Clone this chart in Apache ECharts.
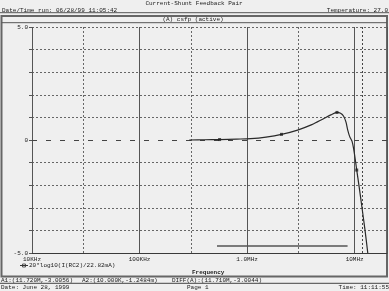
<!DOCTYPE html>
<html><head><meta charset="utf-8">
<script src="https://cdn.jsdelivr.net/npm/echarts@6/dist/echarts.min.js"></script>
<style>html,body{margin:0;padding:0;background:#efefef}#c{width:389px;height:291px}</style>
</head><body><div id="c"></div>
<script>
// ---- data ----
const freqHz = [2.9e5, 4.0e5, 5.55e5, 8.0e5, 1.08e6, 1.5e6, 2.09e6, 2.95e6, 4.0e6, 5.04e6, 6.0e6, 6.85e6, 7.4e6, 7.9e6, 8.3e6, 8.63e6, 9.0e6, 9.45e6, 9.8e6, 10.15e6, 10.46e6, 11.0e6, 11.72e6, 12.5e6, 13.25e6];
const gainDb = [0.00, 0.01, 0.02, 0.04, 0.06, 0.13, 0.25, 0.44, 0.68, 0.92, 1.11, 1.22, 1.18, 1.05, 0.80, 0.44, 0.15, -0.05, -0.40, -0.88, -1.33, -2.05, -3.01, -4.00, -5.00];
const markerFreq = [5.55e5, 2.09e6, 6.85e6, 10.46e6];
const markerDb = [0.02, 0.25, 1.22, -1.33];
const segFreq = [5.25e5, 8.6e6];
const segDb = [-4.69, -4.69];
const xTickValues = [1e4, 1e5, 1e6, 1e7];
const xTickLabels = ['10KHz', '100KHz', '1.0MHz', '10MHz'];
const xMinorGrid = [3e4, 3e5, 3e6];
const yLabelValues = [5, 0, -5];
const yLabelTexts = ['5.0', '0', '-5.0'];
const cursorA1 = [11.72e6, -3.0056];
const cursorA2 = [1e4, -1.2484e-3];
const xRange = [1e4, 2e7];
const yRange = [-5, 5];

const FONT = '6px "Liberation Mono", monospace';
const ink = '#1a1a1a';
const gridCol = '#666';

const chart = echarts.init(document.getElementById('c'), null, {renderer: 'canvas'});

function xFmt(v) {
  const e = Math.log10(v);
  for (let i = 0; i < xTickValues.length; i++) {
    if (Math.abs(e - Math.log10(xTickValues[i])) < 1e-6) return xTickLabels[i];
  }
  return '';
}
function yFmt(v) {
  for (let i = 0; i < yLabelValues.length; i++) if (Math.abs(v - yLabelValues[i]) < 1e-9) return yLabelTexts[i];
  return '';
}
// y split-line colours: hide the zero line (cursor line drawn there instead)
const ySplitColors = [];
for (let v = yRange[0]; v <= yRange[1]; v++) ySplitColors.push(v === 0 ? 'rgba(0,0,0,0)' : gridCol);

function txt(x, y, text, align, weight) {
  return {
    type: 'text', x: x, y: y, silent: true,
    style: {text: text, font: (weight || '') + ' ' + FONT, fill: ink, textAlign: align || 'left', textVerticalAlign: 'middle', verticalAlign: 'middle'}
  };
}
function hline(x1, x2, y, w, col) {
  return {type: 'line', silent: true, shape: {x1: x1, y1: y, x2: x2, y2: y}, style: {stroke: col || '#444', lineWidth: w || 1}};
}

const option = {
  backgroundColor: '#efefef',
  animation: false,
  grid: {left: 32, right: 2, top: 27, bottom: 38},
  xAxis: {
    type: 'log', logBase: 10, min: xRange[0], max: xRange[1],
    axisLine: {show: true, onZero: false, lineStyle: {color: '#3a3a3a', width: 1}},
    axisTick: {show: false},
    axisLabel: {formatter: xFmt, fontFamily: 'Liberation Mono', fontSize: 6, color: ink, margin: 3, showMaxLabel: false},
    splitLine: {show: true, lineStyle: {color: '#555', width: 1, type: 'solid'}},
    minorTick: {show: false}
  },
  yAxis: {
    type: 'value', min: yRange[0], max: yRange[1], interval: 1,
    axisLine: {show: true, lineStyle: {color: '#555', width: 1, type: [4, 7]}},
    axisTick: {show: true, length: 3, lineStyle: {color: '#555'}},
    axisLabel: {formatter: yFmt, fontFamily: 'Liberation Mono', fontSize: 6, color: ink, margin: 4},
    splitLine: {show: true, lineStyle: {color: ySplitColors, width: 1, type: [2, 2]}}
  },
  series: [
    {
      type: 'line', name: 'curve', data: freqHz.map((f, i) => [f, gainDb[i]]),
      showSymbol: false, smooth: 0.3, lineStyle: {color: '#2a2a2a', width: 1.2}, z: 5,
      markLine: {
        silent: true, symbol: 'none', label: {show: false},
        data: [
          ...xMinorGrid.map(v => ({xAxis: v, lineStyle: {color: gridCol, width: 1, type: [2, 2]}})),
          {xAxis: cursorA1[0], lineStyle: {color: '#444', width: 1, type: [2, 2]}},
          {yAxis: cursorA2[1], lineStyle: {color: '#444', width: 1, type: [5, 9]}}
        ]
      }
    },
    {
      type: 'scatter', name: 'markers', data: markerFreq.map((f, i) => [f, markerDb[i]]),
      symbol: 'rect', symbolSize: 3, itemStyle: {color: '#222'}, z: 6
    },
    {
      type: 'line', name: 'seg', data: segFreq.map((f, i) => [f, segDb[i]]),
      showSymbol: false, lineStyle: {color: '#555', width: 1.5}, z: 4
    }
  ],
  graphic: [
    txt(194, 3.5, 'Current-Shunt Feedback Pair', 'center'),
    txt(2, 10, 'Date/Time run: 06/28/99 11:05:42', 'left'),
    txt(388, 10, 'Temperature: 27.0', 'right'),
    hline(0, 389, 12.7, 1, '#555'),
    {type: 'rect', silent: true, shape: {x: 1.5, y: 16, width: 385.5, height: 260.5}, style: {fill: 'none', stroke: '#666', lineWidth: 2}},
    hline(1.5, 387, 22.7, 1, '#555'),
    txt(193, 19.4, '(A) csfp (active)', 'center'),
    // legend
    hline(20, 28, 265.5, 1, '#333'),
    {type: 'rect', silent: true, shape: {x: 22.5, y: 264, width: 3, height: 3}, style: {fill: 'none', stroke: '#333', lineWidth: 0.8}},
    txt(29, 265.5, '20*log10(I(RC2)/22.82mA)', 'left'),
    txt(192, 272.5, 'Frequency', 'left', 'bold'),
    hline(0, 389, 283.3, 1, '#444'),
    txt(1, 280.3, 'A1:(11.720M,-3.0056)', 'left'),
    txt(82, 280.3, 'A2:(10.000K,-1.2484m)', 'left'),
    txt(172, 280.3, 'DIFF(A):(11.710M,-3.0044)', 'left'),
    txt(1, 287.5, 'Date: June 28, 1999', 'left'),
    txt(187, 287.5, 'Page 1', 'left'),
    txt(389, 287.5, 'Time: 11:11:55', 'right')
  ]
};
chart.setOption(option);
</script>
</body></html>
